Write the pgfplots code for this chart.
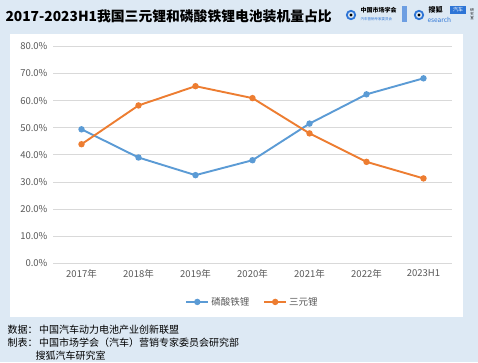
\documentclass[border=0pt]{standalone}
\usepackage{fontspec}
\setmainfont{Noto Sans CJK SC}
\usepackage{pgfplots}
\pgfplotsset{compat=1.18}
\definecolor{bgblue}{HTML}{DDE9F4}
\definecolor{lfpblue}{HTML}{5B9BD5}
\definecolor{nmcorange}{HTML}{ED7D31}
\definecolor{gridgray}{HTML}{D9D9D9}
\definecolor{labelgray}{HTML}{595959}
\definecolor{logoblue}{HTML}{2E75D6}
\begin{document}
\begin{tikzpicture}[x=1pt,y=1pt]
\fill[bgblue] (0,0) rectangle (478,362);
\useasboundingbox (0,0) rectangle (478,362);
\fill[white] (10,45) rectangle (463,328);
% title
\node[anchor=west,font=\fontsize{13.8}{16}\selectfont\bfseries,text=black] at (2,346) {2017-2023H1我国三元锂和磷酸铁锂电池装机量占比};
% logos (approximate)
\draw[logoblue,line width=1.8pt] (351,347) circle (4.2);
\fill[black] (351,347) circle (1.6);
\node[anchor=west,font=\fontsize{6}{6}\selectfont\bfseries] at (357,352) {中国市场学会};
\node[anchor=west,font=\fontsize{3.5}{4}\selectfont,text=logoblue] at (357,343) {汽车营销专家委员会};
\fill[logoblue!70] (402,340) rectangle (407,356);
\draw[logoblue,line width=1.8pt] (419,347) circle (4.2);
\fill[black] (419,347) circle (1.6);
\node[anchor=west,font=\fontsize{7}{7}\selectfont\bfseries] at (425,352) {搜狐};
\fill[logoblue] (450,348) rectangle (466,356);
\node[font=\fontsize{5}{5}\selectfont,text=white] at (458,352) {汽车};
\node[anchor=west,font=\fontsize{6.5}{6}\selectfont,text=logoblue] at (424,342.5) {esearch};
\node[font=\fontsize{3.5}{4}\selectfont,align=center] at (472,348) {研\\究\\室};
\begin{axis}[
  at={(53pt,98.7pt)}, anchor=south west,
  scale only axis, width=399pt, height=217pt,
  xmin=-0.5, xmax=6.5, ymin=0, ymax=80,
  ytick={0,10,20,30,40,50,60,70,80},
  yticklabels={0.0\%,10.0\%,20.0\%,30.0\%,40.0\%,50.0\%,60.0\%,70.0\%,80.0\%},
  xtick={0,1,2,3,4,5,6},
  xticklabels={2017年,2018年,2019年,2020年,2021年,2022年,2023H1},
  axis line style={draw=none},
  ymajorgrids, grid style={gridgray, line width=0.8pt},
  major tick length=0pt,
  tick style={draw=none},
  ticklabel style={font=\fontsize{9.5}{10}\selectfont, text=labelgray},
  xticklabel style={yshift=-3pt},
  yticklabel style={xshift=-2pt},
  clip=false,
  legend style={at={(0.5,-0.178)}, anchor=center, legend columns=2, draw=none, fill=none,
    font=\fontsize{9.5}{10}\selectfont, text=labelgray,
    /tikz/every even column/.append style={column sep=12pt}},
  legend image code/.code={\draw[#1,mark repeat=2,mark phase=2] plot coordinates {(0pt,0pt) (11pt,0pt) (22pt,0pt)};},
]
\draw[gridgray, line width=0.8pt] (axis cs:-0.5,0) -- (axis cs:6.5,0);
\addplot[lfpblue, line width=1.9pt, mark=*, mark size=2.2pt, mark options={solid,fill=lfpblue,draw=lfpblue}]
  coordinates {(0,49.4) (1,39.0) (2,32.5) (3,38.0) (4,51.5) (5,62.3) (6,68.2)};
\addlegendentry{磷酸铁锂}
\addplot[nmcorange, line width=1.9pt, mark=*, mark size=2.2pt, mark options={solid,fill=nmcorange,draw=nmcorange}]
  coordinates {(0,43.9) (1,58.2) (2,65.3) (3,60.9) (4,47.9) (5,37.4) (6,31.3)};
\addlegendentry{三元锂}
\end{axis}
% footnotes
\node[anchor=west,font=\fontsize{10}{11}\selectfont] at (4,32) {数据：\,中国汽车动力电池产业创新联盟};
\node[anchor=west,font=\fontsize{10}{11}\selectfont] at (4,19.5) {制表：\,中国市场学会（汽车）营销专家委员会研究部};
\node[anchor=west,font=\fontsize{10}{11}\selectfont] at (32,6.5) {搜狐汽车研究室};
\end{tikzpicture}
\end{document}
